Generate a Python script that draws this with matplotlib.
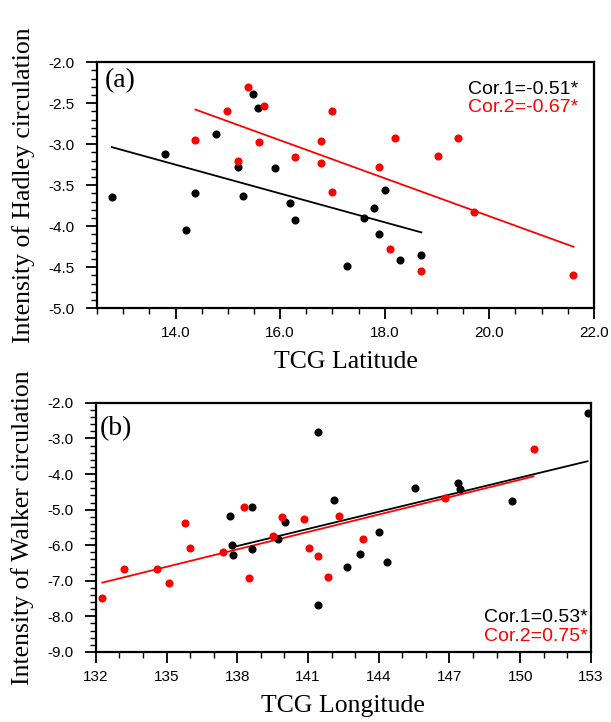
import numpy as np
import matplotlib
matplotlib.use("Agg")
import matplotlib.pyplot as plt
from matplotlib.ticker import MultipleLocator, FormatStrFormatter

# ---- Panel (a): TCG latitude vs Hadley circulation intensity ----
lat1 = [12.78, 13.79, 14.19, 14.38, 14.78, 15.19, 15.29, 15.49, 15.58, 15.90,
        16.19, 16.29, 17.28, 17.60, 17.79, 17.89, 18.00, 18.30, 18.70]
had1 = [-3.64, -3.12, -4.05, -3.60, -2.88, -3.28, -3.63, -2.39, -2.56, -3.29,
        -3.72, -3.93, -4.49, -3.90, -3.78, -4.09, -3.56, -4.41, -4.35]
lat2 = [14.38, 14.99, 15.19, 15.39, 15.60, 15.69, 16.29, 16.79, 16.79, 16.99,
        16.99, 17.89, 18.10, 18.20, 18.70, 19.01, 19.40, 19.70, 21.61]
had2 = [-2.95, -2.59, -3.20, -2.30, -2.97, -2.54, -3.16, -2.96, -3.23, -2.60,
        -3.58, -3.28, -4.28, -2.92, -4.55, -3.14, -2.92, -3.83, -4.59]

# ---- Panel (b): TCG longitude vs Walker circulation intensity ----
lon1 = [137.71, 137.79, 137.81, 138.61, 138.61, 139.71, 140.01, 141.43, 141.43,
        142.11, 142.64, 143.22, 144.03, 144.35, 145.54, 147.36, 147.43, 149.66, 152.86]
wal1 = [-5.17, -6.00, -6.27, -4.94, -6.10, -5.82, -5.36, -2.83, -7.67,
        -4.72, -6.60, -6.26, -5.63, -6.46, -4.38, -4.26, -4.42, -4.77, -2.29]
lon2 = [132.27, 133.17, 134.60, 135.09, 135.79, 135.98, 137.39, 138.30, 138.51,
        139.50, 139.91, 140.81, 141.02, 141.43, 141.83, 142.32, 143.33, 146.83, 150.57]
wal2 = [-7.47, -6.67, -6.67, -7.07, -5.38, -6.08, -6.20, -4.92, -6.91,
        -5.75, -5.22, -5.27, -6.08, -6.31, -6.90, -5.17, -5.82, -4.68, -3.30]

cor_a = ["Cor.1=-0.51*", "Cor.2=-0.67*"]
cor_b = ["Cor.1=0.53*", "Cor.2=0.75*"]

RED = "#ff0000"
SERIF = ["Liberation Serif", "DejaVu Serif"]
SANS = ["Liberation Sans", "DejaVu Sans"]

plt.rcParams["font.family"] = SANS

fig = plt.figure(figsize=(6.11, 7.22), dpi=100)
axa = fig.add_axes([0.159, 0.573, 0.813, 0.341])
axb = fig.add_axes([0.157, 0.097, 0.810, 0.345])


def fit_line(ax, x, y, color):
    x = np.asarray(x)
    y = np.asarray(y)
    k, b = np.polyfit(x, y, 1)
    xs = np.array([x.min(), x.max()])
    ax.plot(xs, k * xs + b, color=color, lw=1.3, zorder=2)


def style(ax):
    for s in ax.spines.values():
        s.set_linewidth(1.6)
    ax.tick_params(which="major", direction="out", length=8, width=1.3,
                   labelsize=11, top=False, right=False)
    ax.tick_params(axis="y", which="major", pad=8)
    ax.tick_params(axis="x", which="major", pad=5)
    ax.tick_params(which="minor", direction="out", length=4, width=1.0,
                   top=False, right=False)


# Panel (a)
axa.scatter(lat1, had1, s=34, color="black", zorder=3, linewidths=0)
axa.scatter(lat2, had2, s=34, color=RED, zorder=3, linewidths=0)
fit_line(axa, lat1, had1, "black")
fit_line(axa, lat2, had2, RED)
axa.set_xlim(12.5, 22.0)
axa.set_ylim(-5.0, -2.0)
axa.xaxis.set_major_locator(MultipleLocator(2.0))
axa.xaxis.set_minor_locator(MultipleLocator(0.5))
axa.yaxis.set_major_locator(MultipleLocator(0.5))
axa.yaxis.set_minor_locator(MultipleLocator(0.1))
axa.xaxis.set_major_formatter(FormatStrFormatter("%.1f"))
axa.yaxis.set_major_formatter(FormatStrFormatter("%.1f"))
style(axa)
axa.set_xlabel("TCG Latitude", family=SERIF, fontsize=18.5, labelpad=8)
axa.set_ylabel("Intensity of Hadley circulation", family=SERIF, fontsize=18.5, labelpad=10)
axa.text(0.016, 0.975, "(a)", transform=axa.transAxes, family=SERIF,
         fontsize=20, ha="left", va="top")
axa.text(0.968, 0.872, cor_a[0], transform=axa.transAxes, fontsize=14,
         ha="right", va="baseline", color="black")
axa.text(0.968, 0.798, cor_a[1], transform=axa.transAxes, fontsize=14,
         ha="right", va="baseline", color=RED)

# Panel (b)
axb.scatter(lon1, wal1, s=34, color="black", zorder=3, linewidths=0)
axb.scatter(lon2, wal2, s=34, color=RED, zorder=3, linewidths=0)
fit_line(axb, lon1, wal1, "black")
fit_line(axb, lon2, wal2, RED)
axb.set_xlim(132, 153)
axb.set_ylim(-9.0, -2.0)
axb.xaxis.set_major_locator(MultipleLocator(3))
axb.xaxis.set_minor_locator(MultipleLocator(1))
axb.yaxis.set_major_locator(MultipleLocator(1.0))
axb.yaxis.set_minor_locator(MultipleLocator(0.2))
axb.xaxis.set_major_formatter(FormatStrFormatter("%d"))
axb.yaxis.set_major_formatter(FormatStrFormatter("%.1f"))
style(axb)
axb.set_xlabel("TCG Longitude", family=SERIF, fontsize=18.5, labelpad=8)
axb.set_ylabel("Intensity of Walker circulation", family=SERIF, fontsize=18.5, labelpad=10)
axb.text(0.008, 0.945, "(b)", transform=axb.transAxes, family=SERIF,
         fontsize=20, ha="left", va="top")
axb.text(0.993, 0.122, cor_b[0], transform=axb.transAxes, fontsize=14,
         ha="right", va="baseline", color="black")
axb.text(0.993, 0.046, cor_b[1], transform=axb.transAxes, fontsize=14,
         ha="right", va="baseline", color=RED)

fig.savefig("out.png", dpi=100)
